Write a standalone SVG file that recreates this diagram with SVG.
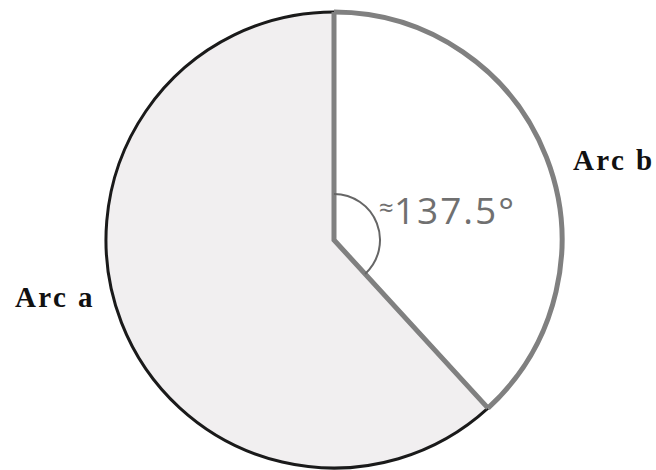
<svg xmlns="http://www.w3.org/2000/svg" width="656" height="470" viewBox="0 0 656 470">
<style>
.lbl{font-family:"Liberation Serif","DejaVu Serif",serif;font-weight:bold;font-size:29px;letter-spacing:2.4px;fill:#111}
.ang{font-family:"Open Sans","Liberation Sans",sans-serif;font-size:37px;fill:#707070}
</style>
<rect width="656" height="470" fill="#fff"/>
<g id="sectorA">
<path d="M334,240 L334,12 A228,228 0 1 0 488.0,408.1 Z" fill="#f1eff0" stroke="none"/>
<path d="M334,12 A228,228 0 1 0 488.0,408.1" fill="none" stroke="#1a1a1a" stroke-width="3"/>
</g>
<g id="sectorB">
<path d="M334,12 A228,228 0 0 1 488.0,408.1" fill="none" stroke="#808080" stroke-width="5"/>
</g>
<g id="connectors">
<path d="M334,12 L334,240 L488.0,408.1" fill="none" stroke="#808080" stroke-width="5" stroke-linejoin="miter"/>
<path d="M334,194 A46,46 0 0 1 365.1,273.9" fill="none" stroke="#666" stroke-width="2"/>
</g>
<g id="labels">
<text class="ang" x="379" y="224"><tspan font-size="26" dy="-7">≈</tspan><tspan dy="7" letter-spacing="2">137.5°</tspan></text>
<text class="lbl" x="573" y="170">Arc b</text>
<text class="lbl" x="15" y="307">Arc a</text>
</g>
</svg>
